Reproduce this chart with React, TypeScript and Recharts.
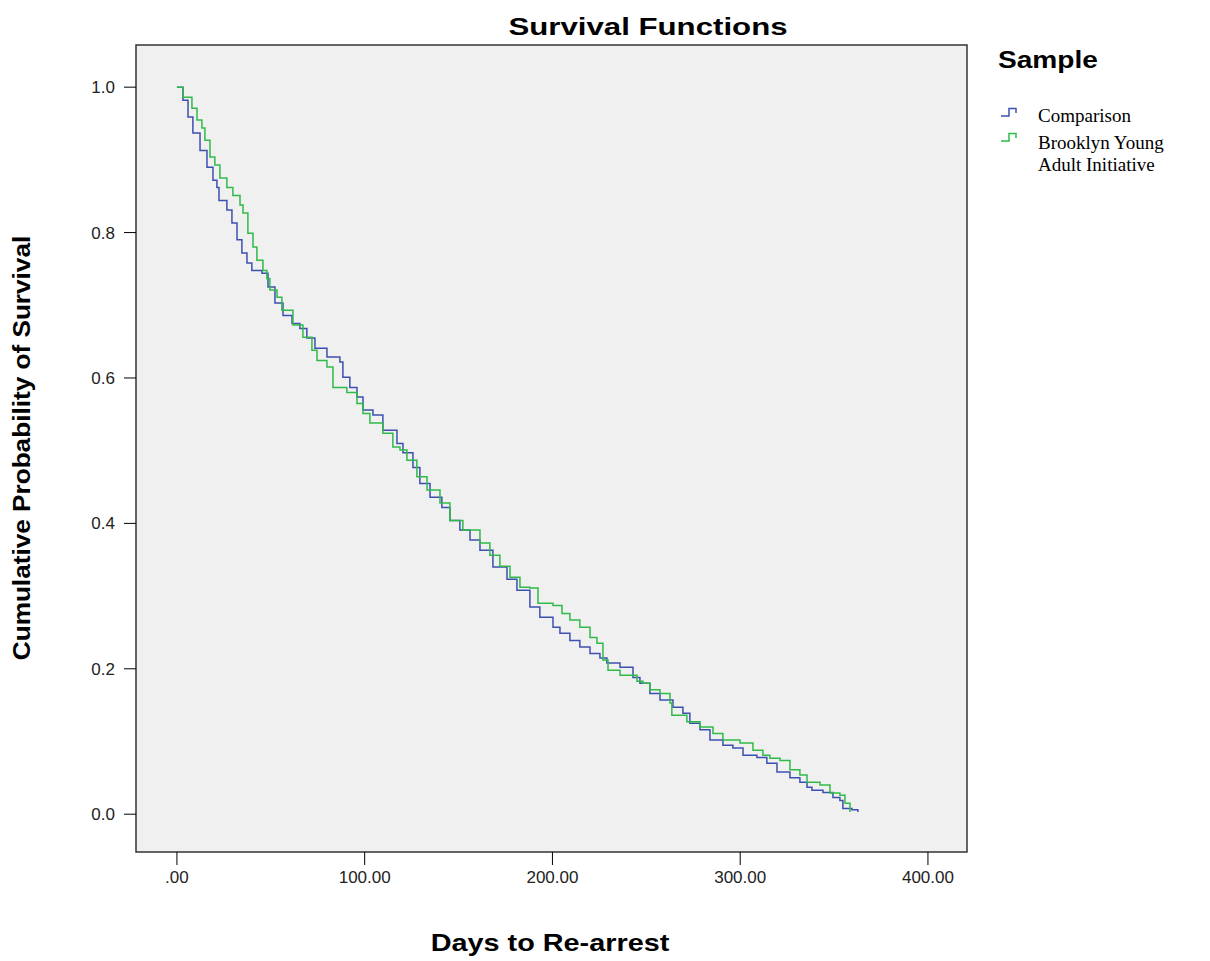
import { LineChart, Line, XAxis, YAxis, ReferenceArea } from 'recharts';

// Kaplan-Meier estimates (days, survival)
const comparisonDays = [0, 3.2, 5.9, 8.5, 12.3, 16.0, 19.2, 21.3, 22.4, 26.6, 29.3, 32.0, 34.6, 37.3, 39.9, 45.3, 48.5, 52.2, 56.5, 61.3, 65.5, 69.2, 73.5, 79.9, 86.8, 88.4, 92.1, 95.9, 99.1, 104.4, 109.7, 117.2, 120.4, 125.7, 129.4, 134.8, 141.1, 145.4, 150.7, 156.1, 161.4, 168.3, 175.8, 181.1, 188.0, 193.3, 200.3, 204.0, 209.3, 214.6, 220.0, 225.3, 229.0, 236.0, 242.9, 246.6, 251.9, 257.3, 264.2, 269.5, 273.2, 278.6, 283.9, 290.8, 296.1, 301.5, 308.9, 314.2, 319.6, 326.5, 331.8, 335.6, 338.2, 344.1, 349.4, 353.1, 354.7, 359.5, 362.7];
const comparisonSurv = [1.0, 0.982, 0.959, 0.937, 0.913, 0.89, 0.872, 0.862, 0.844, 0.831, 0.813, 0.79, 0.772, 0.758, 0.748, 0.744, 0.725, 0.703, 0.686, 0.675, 0.668, 0.655, 0.641, 0.629, 0.622, 0.601, 0.587, 0.574, 0.556, 0.549, 0.528, 0.51, 0.497, 0.477, 0.455, 0.436, 0.422, 0.404, 0.391, 0.377, 0.363, 0.34, 0.323, 0.308, 0.285, 0.271, 0.257, 0.249, 0.239, 0.23, 0.221, 0.215, 0.208, 0.202, 0.188, 0.18, 0.166, 0.157, 0.147, 0.139, 0.125, 0.116, 0.102, 0.095, 0.091, 0.081, 0.078, 0.07, 0.058, 0.05, 0.044, 0.037, 0.033, 0.03, 0.023, 0.019, 0.008, 0.006, 0.003];

const byaiDays = [0, 3.2, 8.0, 10.7, 13.3, 14.9, 17.6, 20.2, 22.9, 26.6, 29.8, 33.6, 35.2, 37.8, 40.5, 42.6, 45.8, 47.9, 49.5, 53.3, 55.9, 61.8, 67.1, 71.9, 74.6, 79.9, 83.1, 90.5, 95.9, 99.1, 102.8, 109.7, 115.0, 118.8, 122.5, 127.8, 133.2, 140.1, 145.4, 152.3, 158.7, 161.4, 166.7, 172.0, 177.4, 182.7, 188.0, 192.3, 200.3, 205.1, 209.3, 214.6, 220.0, 223.7, 226.9, 229.6, 236.0, 245.0, 248.2, 251.9, 257.3, 262.6, 263.6, 271.6, 278.6, 285.5, 290.8, 299.9, 306.8, 312.1, 315.8, 321.2, 326.5, 331.8, 335.6, 342.5, 347.8, 353.1, 355.8, 358.5];
const byaiSurv = [1.0, 0.986, 0.971, 0.955, 0.944, 0.927, 0.904, 0.893, 0.875, 0.862, 0.851, 0.838, 0.827, 0.799, 0.78, 0.762, 0.748, 0.737, 0.721, 0.711, 0.693, 0.673, 0.656, 0.638, 0.624, 0.615, 0.587, 0.58, 0.565, 0.551, 0.538, 0.524, 0.505, 0.501, 0.487, 0.464, 0.446, 0.428, 0.404, 0.391, 0.391, 0.373, 0.356, 0.341, 0.326, 0.312, 0.311, 0.29, 0.287, 0.276, 0.267, 0.257, 0.243, 0.235, 0.212, 0.198, 0.191, 0.183, 0.18, 0.171, 0.166, 0.153, 0.136, 0.127, 0.12, 0.111, 0.102, 0.098, 0.088, 0.081, 0.077, 0.074, 0.061, 0.054, 0.044, 0.04, 0.029, 0.026, 0.015, 0.003];

const xTicks = [0, 100, 200, 300, 400];
const yTicks = [0, 0.2, 0.4, 0.6, 0.8, 1.0];

const comparisonData = comparisonDays.map((d, i) => ({ day: d, surv: comparisonSurv[i] }));
const byaiData = byaiDays.map((d, i) => ({ day: d, surv: byaiSurv[i] }));

const BLUE = '#3d50b0';
const GREEN = '#2fba48';
const xDomain: [number, number] = [-21.8, 420.8];
const yDomain: [number, number] = [-0.052, 1.058];

const fmtX = (v: number) => (v === 0 ? '.00' : v.toFixed(2));
const sans = 'Arial, "Liberation Sans", sans-serif';

const StepIcon = ({ color }: { color: string }) => (
  <svg width={18} height={11} style={{ display: 'block' }}>
    <polyline points="1,9 9,9 9,1.5 16,1.5 16,6" fill="none" stroke={color} strokeWidth={1.5} />
  </svg>
);

// bold heading centred on (cx, cy), stretched horizontally like the original
const Heading = ({ text, cx, cy, sx, rotate = false }: { text: string; cx: number; cy: number; sx: number; rotate?: boolean }) => (
  <div
    style={{
      position: 'absolute',
      left: cx - 300,
      top: cy - 15,
      width: 600,
      height: 30,
      lineHeight: '30px',
      textAlign: 'center',
      fontFamily: sans,
      fontWeight: 700,
      fontSize: 24,
      color: '#000',
      whiteSpace: 'nowrap',
      transform: rotate ? `rotate(-90deg) scaleX(${sx})` : `scaleX(${sx})`,
    }}
  >
    {text}
  </div>
);

export default function App() {
  return (
    <div style={{ position: 'absolute', left: 0, top: 0, width: 1210, height: 961, background: '#fff', overflow: 'hidden' }}>
      <LineChart
        width={1210}
        height={961}
        margin={{ top: 45, right: 243, bottom: 0, left: 0 }}
      >
        <ReferenceArea
          x1={xDomain[0]}
          x2={xDomain[1]}
          y1={yDomain[0]}
          y2={yDomain[1]}
          fill="#f0f0f0"
          fillOpacity={1}
          stroke="#333"
          strokeWidth={1.5}
        />
        <XAxis
          type="number"
          dataKey="day"
          domain={xDomain}
          ticks={xTicks}
          tickFormatter={fmtX}
          allowDataOverflow
          axisLine={false}
          tickSize={13}
          tickMargin={6}
          tickLine={{ stroke: '#000' }}
          height={109}
          tick={{ fill: '#222', fontSize: 17, fontFamily: sans }}
        />
        <YAxis
          type="number"
          domain={yDomain}
          ticks={yTicks}
          tickFormatter={(v: number) => v.toFixed(1)}
          allowDataOverflow
          axisLine={false}
          tickSize={12}
          tickMargin={9}
          tickLine={{ stroke: '#000' }}
          width={136}
          tick={{ fill: '#222', fontSize: 17, fontFamily: sans }}
        />
        <Line
          data={comparisonData}
          dataKey="surv"
          type="stepAfter"
          stroke={BLUE}
          strokeWidth={1.5}
          dot={false}
          isAnimationActive={false}
          name="Comparison"
        />
        <Line
          data={byaiData}
          dataKey="surv"
          type="stepAfter"
          stroke={GREEN}
          strokeWidth={1.5}
          dot={false}
          isAnimationActive={false}
          name="Brooklyn Young Adult Initiative"
        />
      </LineChart>

      <Heading text="Survival Functions" cx={648} cy={27} sx={1.3} />
      <Heading text="Days to Re-arrest" cx={550} cy={943} sx={1.2} />
      <Heading text="Cumulative Probability of Survival" cx={22} cy={448} sx={1.09} rotate />

      <div
        style={{
          position: 'absolute',
          left: 998,
          top: 45,
          fontFamily: sans,
          fontWeight: 700,
          fontSize: 24,
          lineHeight: '30px',
          color: '#000',
          transform: 'scaleX(1.17)',
          transformOrigin: 'left center',
        }}
      >
        Sample
      </div>
      <div style={{ position: 'absolute', left: 1000, top: 107 }}>
        <StepIcon color={BLUE} />
      </div>
      <div style={{ position: 'absolute', left: 1000, top: 132 }}>
        <StepIcon color={GREEN} />
      </div>
      <div
        style={{
          position: 'absolute',
          left: 1038,
          top: 105,
          fontFamily: '"Liberation Serif", "Times New Roman", serif',
          fontSize: 19,
          lineHeight: '22px',
          color: '#000',
        }}
      >
        <div>Comparison</div>
        <div style={{ marginTop: 5 }}>Brooklyn Young</div>
        <div>Adult Initiative</div>
      </div>
    </div>
  );
}
